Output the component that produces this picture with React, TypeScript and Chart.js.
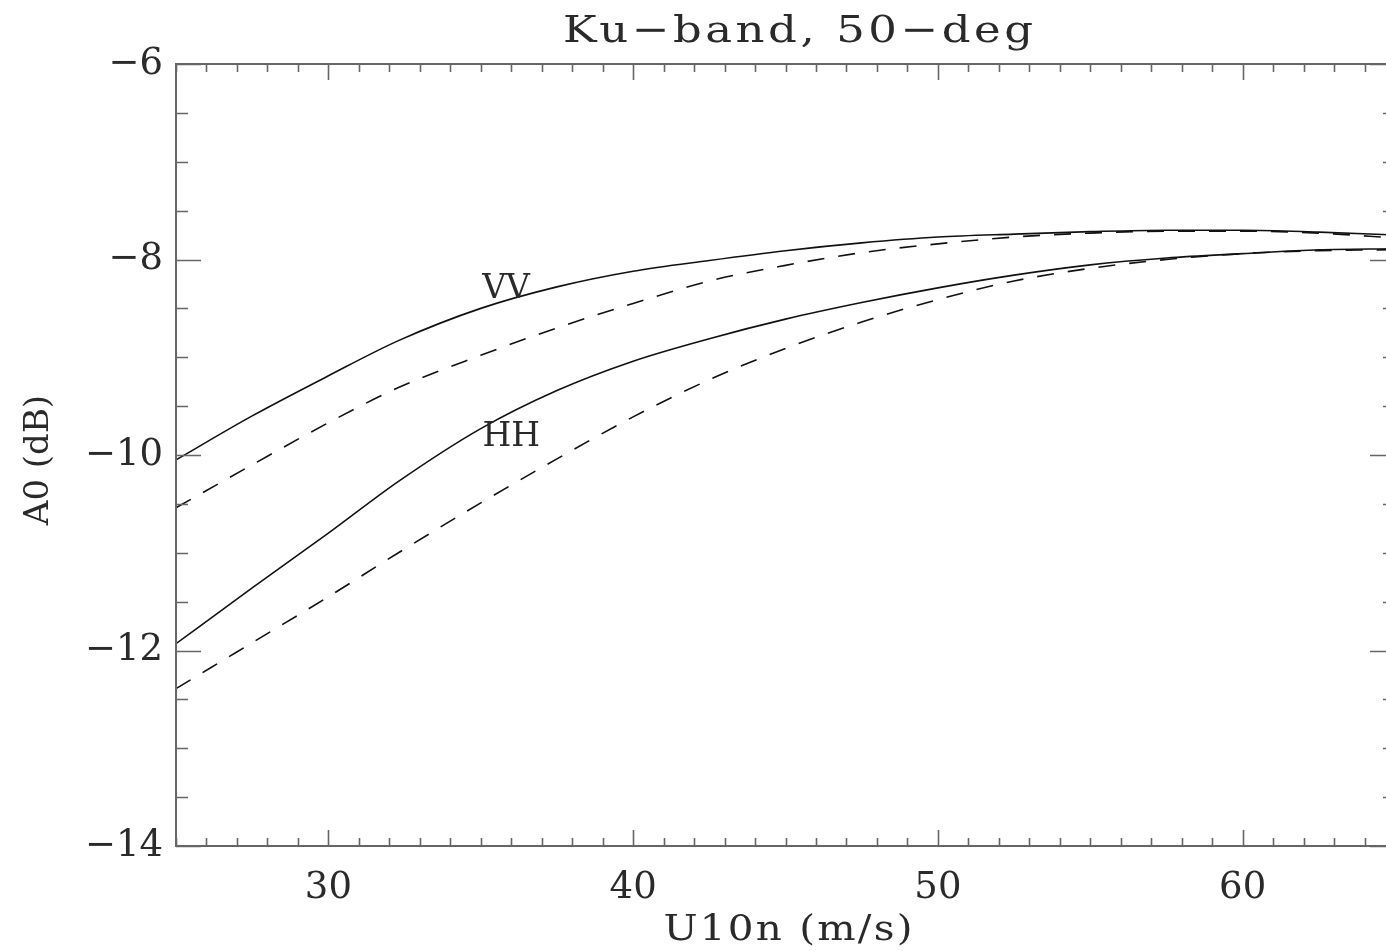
import React, { useEffect, useRef } from "react";
import { Chart, registerables } from "chart.js";

Chart.register(...registerables);

// ---- data ----
const windSpeed = [25, 27.5, 30, 32.3, 35, 37.5, 40, 42.5, 45, 47.5, 50, 52.5, 55, 57.5, 60, 62.5, 65];
const vvSolid = [-10.05, -9.6, -9.19, -8.83, -8.5, -8.28, -8.12, -8.01, -7.91, -7.83, -7.77, -7.74, -7.715, -7.7, -7.7, -7.72, -7.75];
const vvDashed = [-10.54, -10.1, -9.67, -9.31, -8.98, -8.7, -8.45, -8.22, -8.06, -7.93, -7.84, -7.77, -7.73, -7.71, -7.71, -7.73, -7.78];
const hhSolid = [-11.93, -11.36, -10.8, -10.27, -9.73, -9.34, -9.04, -8.81, -8.61, -8.44, -8.29, -8.16, -8.055, -7.985, -7.94, -7.9, -7.89];
const hhDashed = [-12.39, -11.92, -11.45, -11.0, -10.49, -10.04, -9.61, -9.23, -8.91, -8.64, -8.41, -8.22, -8.09, -8.0, -7.94, -7.91, -7.9];

const xTickValues = [30, 40, 50, 60];
const yTickValues = [-14, -12, -10, -8, -6];
const curveLabels = ["VV", "HH"];
const curveLabelX = [35.83, 36.0];
const curveLabelY = [-8.31, -9.82];

const chartTitle = "Ku\u2212band, 50\u2212deg";
const xTitle = "U10n (m/s)";
const yTitle = "A0 (dB)";

const SERIF = "'DejaVu Serif', serif";
const MINUS = "\u2212";
const AXIS_COLOR = "#666";
const TEXT_COLOR = "#2a2a2a";

function drawWideText(
  ctx: any,
  text: string,
  cx: number,
  baseline: number,
  font: string,
  spacing: number,
  targetWidth: number
) {
  ctx.save();
  ctx.font = font;
  ctx.letterSpacing = `${spacing}px`;
  ctx.textAlign = "left";
  ctx.textBaseline = "alphabetic";
  const w = ctx.measureText(text).width - spacing;
  const sx = targetWidth / w;
  ctx.translate(cx - targetWidth / 2, baseline);
  ctx.scale(sx, 1);
  ctx.fillText(text, 0, 0);
  ctx.restore();
}

const idlFramePlugin = {
  id: "idlFrame",
  afterDraw(chart: any) {
    const { ctx, chartArea: a, scales } = chart;
    const x = scales.x;
    const y = scales.y;
    ctx.save();
    // frame
    ctx.strokeStyle = AXIS_COLOR;
    ctx.lineWidth = 2;
    ctx.strokeRect(a.left, a.top, a.right - a.left, a.bottom - a.top);
    // x ticks (inward, top and bottom)
    ctx.beginPath();
    for (let v = Math.ceil(x.min); v <= x.max; v += 1) {
      const px = Math.round(x.getPixelForValue(v)) + 0.5;
      const len = v % 10 === 0 ? 16 : 8;
      ctx.moveTo(px, a.bottom);
      ctx.lineTo(px, a.bottom - len);
      ctx.moveTo(px, a.top);
      ctx.lineTo(px, a.top + len);
    }
    // y ticks (inward, left and right)
    for (let k = 0; y.min + k * 0.5 <= y.max + 1e-9; k++) {
      const v = y.min + k * 0.5;
      const py = Math.round(y.getPixelForValue(v)) + 0.5;
      const len = k % 4 === 0 ? 25 : 12;
      ctx.moveTo(a.left, py);
      ctx.lineTo(a.left + len, py);
      ctx.moveTo(a.right, py);
      ctx.lineTo(a.right - len, py);
    }
    ctx.lineWidth = 1.6;
    ctx.stroke();

    // curve labels
    ctx.fillStyle = TEXT_COLOR;
    ctx.font = `33px ${SERIF}`;
    ctx.textAlign = "center";
    ctx.textBaseline = "middle";
    curveLabels.forEach((t, i) => {
      ctx.fillText(t, x.getPixelForValue(curveLabelX[i]), y.getPixelForValue(curveLabelY[i]));
    });

    // title and x title
    drawWideText(ctx, chartTitle, 798, 42, `38px ${SERIF}`, 3, 470);
    drawWideText(ctx, xTitle, 788, 940, `36px ${SERIF}`, 2, 249);

    // y title
    ctx.font = `34px ${SERIF}`;
    ctx.textAlign = "center";
    ctx.textBaseline = "alphabetic";
    ctx.translate(48, 460);
    ctx.rotate(-Math.PI / 2);
    ctx.fillText(yTitle, 0, 0);
    ctx.restore();
  },
};

export default function App() {
  const canvasRef = useRef<HTMLCanvasElement | null>(null);

  useEffect(() => {
    const canvas = canvasRef.current;
    if (!canvas) return;
    const line = (data: number[], dashed: boolean) => ({
      data: windSpeed.map((u, i) => ({ x: u, y: data[i] })),
      borderColor: "#111",
      borderWidth: 1.6,
      borderDash: dashed ? [17, 14] : [],
      pointRadius: 0,
      fill: false,
      cubicInterpolationMode: "monotone" as const,
    });
    const chart = new Chart(canvas, {
      type: "line",
      data: {
        datasets: [
          { label: "VV", ...line(vvSolid, false) },
          { label: "VV dashed", ...line(vvDashed, true) },
          { label: "HH", ...line(hhSolid, false) },
          { label: "HH dashed", ...line(hhDashed, true) },
        ],
      },
      options: {
        responsive: false,
        animation: false,
        layout: { padding: { top: 64, right: 15, left: 0, bottom: 0 } },
        plugins: {
          legend: { display: false },
          tooltip: { enabled: false },
          title: { display: false },
        },
        scales: {
          x: {
            type: "linear",
            min: 25,
            max: 65,
            grid: { display: false, drawTicks: false },
            border: { display: false },
            afterBuildTicks: (s: any) => {
              s.ticks = xTickValues.map((v) => ({ value: v }));
            },
            afterFit: (s: any) => {
              s.height = 105;
            },
            ticks: {
              autoSkip: false,
              maxRotation: 0,
              padding: 20,
              color: TEXT_COLOR,
              font: { family: SERIF, size: 37 },
              callback: (v: any) => String(v),
            },
          },
          y: {
            type: "linear",
            min: -14,
            max: -6,
            grid: { display: false, drawTicks: false },
            border: { display: false },
            afterBuildTicks: (s: any) => {
              s.ticks = yTickValues.map((v) => ({ value: v }));
            },
            afterFit: (s: any) => {
              s.width = 176;
            },
            ticks: {
              autoSkip: false,
              padding: 13,
              color: TEXT_COLOR,
              font: { family: SERIF, size: 37 },
              callback: (v: any) => String(v).replace("-", MINUS),
            },
          },
        },
      },
      plugins: [idlFramePlugin],
    });
    return () => chart.destroy();
  }, []);

  return (
    <div
      style={{
        position: "absolute",
        left: 0,
        top: 0,
        width: 1386,
        height: 951,
        overflow: "hidden",
        background: "#fff",
      }}
    >
      <canvas ref={canvasRef} width={1410} height={951} style={{ display: "block" }} />
    </div>
  );
}
